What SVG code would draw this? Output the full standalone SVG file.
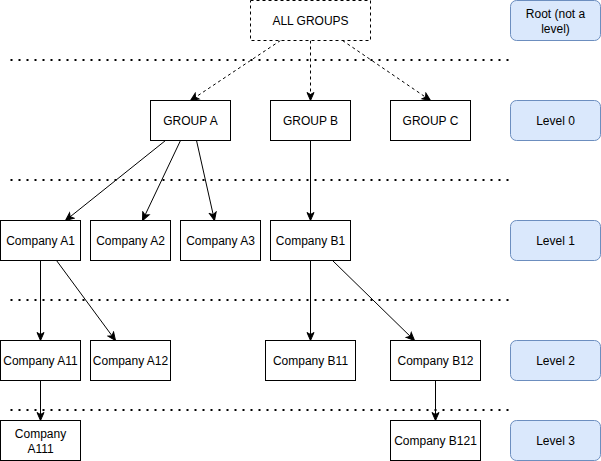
<svg xmlns="http://www.w3.org/2000/svg" width="601" height="461" viewBox="0 0 601 461">
<defs>
<marker id="arr" markerUnits="userSpaceOnUse" markerWidth="10" markerHeight="10" viewBox="0 0 10 10" refX="9" refY="5" orient="auto">
<path d="M1,1.5 L9,5 L1,8.5 L3,5 Z" fill="#000" stroke="#000" stroke-width="1"/>
</marker>
</defs>
<style>
.n rect{fill:#fff;stroke:#000;stroke-width:1}
.lv rect{fill:#dae8fc;stroke:#6c8ebf;stroke-width:1}
text{font-family:"Liberation Sans",Arial,sans-serif;font-size:12px;fill:#000;text-anchor:middle}
.sep{stroke:#000;stroke-width:2;stroke-dasharray:2 6;fill:none}
.e{stroke:#000;stroke-width:1;fill:none;marker-end:url(#arr)}
.d{stroke-dasharray:3 3}
</style>
<g transform="translate(0.5,0.5)">
<g id="separators">
<line class="sep" x1="10" y1="59.5" x2="510" y2="59.5"/>
<line class="sep" x1="10" y1="179.5" x2="510" y2="179.5"/>
<line class="sep" x1="10" y1="299.5" x2="510" y2="299.5"/>
<line class="sep" x1="10" y1="409.5" x2="510" y2="409.5"/>
</g>
<g id="connectors">
<line class="e d" x1="280" y1="40" x2="190" y2="100"/>
<line class="e d" x1="310" y1="40" x2="310" y2="100"/>
<line class="e d" x1="342" y1="40" x2="430" y2="100"/>
<line class="e" x1="165" y1="140" x2="65" y2="220"/>
<line class="e" x1="180" y1="140" x2="142" y2="220"/>
<line class="e" x1="196" y1="140" x2="214" y2="220"/>
<line class="e" x1="310" y1="140" x2="310" y2="220"/>
<line class="e" x1="40" y1="260" x2="40" y2="340"/>
<line class="e" x1="56" y1="260" x2="115" y2="340"/>
<line class="e" x1="310" y1="260" x2="310" y2="340"/>
<line class="e" x1="332" y1="260" x2="414" y2="340"/>
<line class="e" x1="40" y1="380" x2="40" y2="420"/>
<line class="e" x1="435" y1="380" x2="435" y2="420"/>
</g>
<g id="all-groups" class="n"><rect x="250" y="0" width="120" height="40" stroke-dasharray="3 3"/><text x="310" y="24">ALL GROUPS</text></g>
<g id="group-a" class="n"><rect x="150" y="100" width="80" height="40"/><text x="190" y="124">GROUP A</text></g>
<g id="group-b" class="n"><rect x="270" y="100" width="80" height="40"/><text x="310" y="124">GROUP B</text></g>
<g id="group-c" class="n"><rect x="390" y="100" width="80" height="40"/><text x="430" y="124">GROUP C</text></g>
<g id="company-a1" class="n"><rect x="0" y="220" width="80" height="40"/><text x="40" y="244">Company A1</text></g>
<g id="company-a2" class="n"><rect x="90" y="220" width="80" height="40"/><text x="130" y="244">Company A2</text></g>
<g id="company-a3" class="n"><rect x="180" y="220" width="80" height="40"/><text x="220" y="244">Company A3</text></g>
<g id="company-b1" class="n"><rect x="270" y="220" width="80" height="40"/><text x="310" y="244">Company B1</text></g>
<g id="company-a11" class="n"><rect x="0" y="340" width="80" height="40"/><text x="40" y="364">Company A11</text></g>
<g id="company-a12" class="n"><rect x="90" y="340" width="80" height="40"/><text x="130" y="364">Company A12</text></g>
<g id="company-b11" class="n"><rect x="265" y="340" width="90" height="40"/><text x="310" y="364">Company B11</text></g>
<g id="company-b12" class="n"><rect x="390" y="340" width="90" height="40"/><text x="435" y="364">Company B12</text></g>
<g id="company-a111" class="n"><rect x="0" y="420" width="80" height="40"/><text x="40" y="437">Company</text><text x="40" y="452">A111</text></g>
<g id="company-b121" class="n"><rect x="390" y="420" width="90" height="40"/><text x="435" y="444">Company B121</text></g>
<g id="level-root" class="lv"><rect x="510" y="0" width="90" height="40" rx="6"/><text x="555" y="17">Root (not a</text><text x="555" y="32">level)</text></g>
<g id="level-0" class="lv"><rect x="510" y="100" width="90" height="40" rx="6"/><text x="555" y="124">Level 0</text></g>
<g id="level-1" class="lv"><rect x="510" y="220" width="90" height="40" rx="6"/><text x="555" y="244">Level 1</text></g>
<g id="level-2" class="lv"><rect x="510" y="340" width="90" height="40" rx="6"/><text x="555" y="364">Level 2</text></g>
<g id="level-3" class="lv"><rect x="510" y="420" width="90" height="40" rx="6"/><text x="555" y="444">Level 3</text></g>
</g>
</svg>
